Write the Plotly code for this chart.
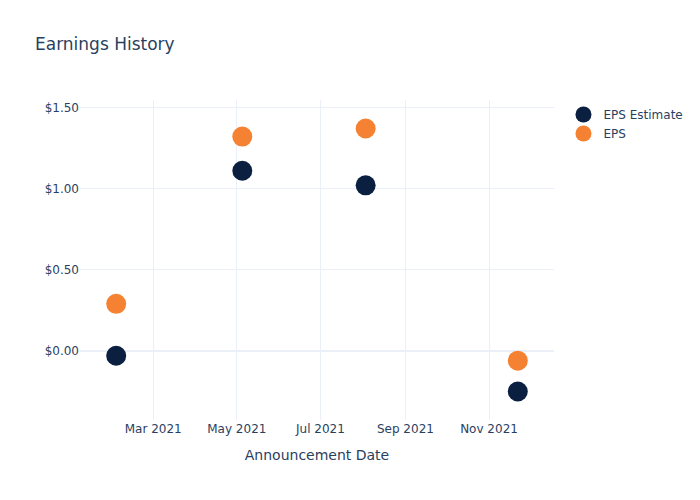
import plotly.graph_objects as go

dates = ["2021-02-02", "2021-05-05", "2021-08-03", "2021-11-22"]
eps_estimate = [-0.03, 1.11, 1.02, -0.25]
eps_actual = [0.29, 1.32, 1.37, -0.06]

fig = go.Figure()
fig.add_trace(go.Scatter(x=dates, y=eps_estimate, mode="markers", name="EPS Estimate",
                         marker=dict(size=20, color="#0b1f40")))
fig.add_trace(go.Scatter(x=dates, y=eps_actual, mode="markers", name="EPS",
                         marker=dict(size=20, color="#f58233")))
fig.update_layout(
    template="plotly_white",
    width=700, height=500,
    font=dict(family="DejaVu Sans"),
    title=dict(text="Earnings History"),
    xaxis=dict(title=dict(text="Announcement Date")),
    yaxis=dict(tickprefix="$", tickformat=".2f"),
)
fig.write_html("out.html")
